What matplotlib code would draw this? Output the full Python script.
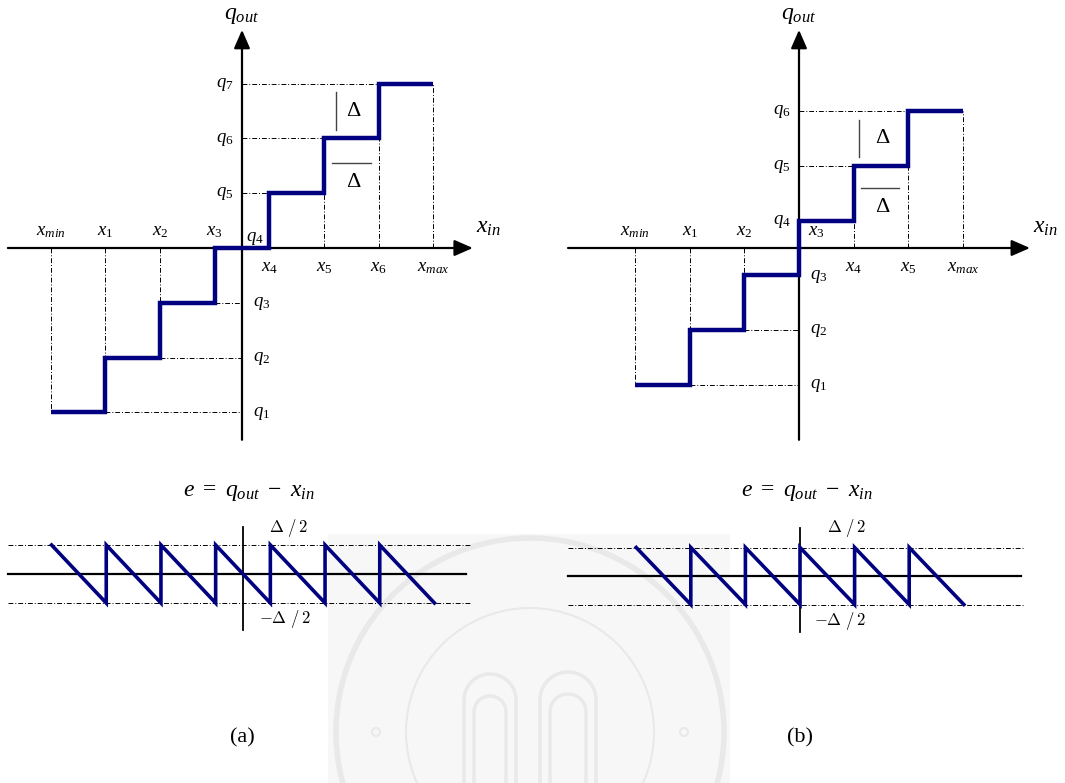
import numpy as np
import matplotlib
matplotlib.use("Agg")
import matplotlib.pyplot as plt
from matplotlib.patches import Rectangle, Circle

plt.rcParams["font.family"] = "Liberation Serif"
plt.rcParams["mathtext.fontset"] = "custom"
plt.rcParams["mathtext.rm"] = "Liberation Serif"
plt.rcParams["mathtext.it"] = "Liberation Serif:italic"

# quantizer (a): mid-tread, decision edges and output levels in units of delta
a_edges = [-3.5, -2.5, -1.5, -0.5, 0.5, 1.5, 2.5, 3.5]
a_levels = [-3, -2, -1, 0, 1, 2, 3]
a_xlabels = ["min", "1", "2", "3", "4", "5", "6", "max"]
a_qlabels = ["1", "2", "3", "4", "5", "6", "7"]

# quantizer (b): mid-rise
b_edges = [-3, -2, -1, 0, 1, 2, 3]
b_levels = [-2.5, -1.5, -0.5, 0.5, 1.5, 2.5]
b_xlabels = ["min", "1", "2", "3", "4", "5", "max"]
b_qlabels = ["1", "2", "3", "4", "5", "6"]

half_step = 0.5
captions = ["(a)", "(b)"]

W, H = 1065, 783
NAVY = "#000080"
SEAL = "#e9e9e9"
DASHDOT = (0, (5, 2, 1, 2))

fig = plt.figure(figsize=(W / 100, H / 100), dpi=100)


def panel(ox, oy, sx, sy, xr, yr):
    """axes whose data origin lands on pixel (ox, oy), sx/sy pixels per delta"""
    left = (ox + xr[0] * sx) / W
    bottom = (H - oy + yr[0] * sy) / H
    ax = fig.add_axes([left, bottom, (xr[1] - xr[0]) * sx / W, (yr[1] - yr[0]) * sy / H])
    ax.set_xlim(xr)
    ax.set_ylim(yr)
    ax.axis("off")
    ax.patch.set_alpha(0)
    return ax


# faint seal watermark behind the lower half
bg = fig.add_axes([0, 0, 1, 1], zorder=-5)
bg.set_xlim(0, W)
bg.set_ylim(H, 0)
bg.axis("off")
bg.add_patch(Rectangle((328, 534), 402, 260, facecolor="#f7f7f7", edgecolor="none"))
for r, lw in [(194, 4.0), (124, 1.5)]:
    bg.add_patch(Circle((530, 732), r, facecolor="none", edgecolor=SEAL, lw=lw))
t = np.linspace(0, np.pi, 40)
for cx, rw in [(490, 26), (568, 28), (490, 16), (568, 18)]:
    top = 700 if rw > 20 else 712
    bg.plot(np.r_[cx - rw, cx - rw + rw * (1 - np.cos(t)), cx + rw],
            np.r_[790, top - rw * np.sin(t), 790], color=SEAL, lw=2.5)
for cx in [376, 684]:
    bg.add_patch(Circle((cx, 732), 4, facecolor="none", edgecolor=SEAL, lw=1.5))


def quantizer(ax, edges, levels, xlabels, qlabels, xlo, xhi, x_above, q_left):
    # axes with arrows
    ax.annotate("", xy=(xhi, 0), xytext=(xlo, 0),
                arrowprops=dict(arrowstyle="-|>,head_length=0.8,head_width=0.35",
                                color="k", lw=1.6, shrinkA=0, shrinkB=0, mutation_scale=14))
    ax.annotate("", xy=(0, 3.98), xytext=(0, -3.5),
                arrowprops=dict(arrowstyle="-|>,head_length=0.8,head_width=0.35",
                                color="k", lw=1.6, shrinkA=0, shrinkB=0, mutation_scale=14))

    # dash-dot guides from the axes to the step corners
    for i, q in enumerate(levels):
        if q > 0:
            ax.plot([0, edges[i]], [q, q], color="k", lw=0.7, ls=DASHDOT)
        elif q < 0:
            ax.plot([edges[i + 1], 0], [q, q], color="k", lw=0.7, ls=DASHDOT)
    for j, e in enumerate(edges):
        adj = levels[max(j - 1, 0):j + 1]
        if e < 0:
            ax.plot([e, e], [0, max(adj)], color="k", lw=0.7, ls=DASHDOT)
        elif e > 0:
            ax.plot([e, e], [0, min(adj)], color="k", lw=0.7, ls=DASHDOT)

    ax.stairs(levels, edges, baseline=None, color=NAVY, lw=3.2, zorder=5)

    # tick labels
    for e, lab in zip(edges, xlabels):
        txt = r"$x_{%s}$" % lab
        if lab in x_above:
            dx = 0.31 if e == 0 else 0
            ax.text(e + dx, 0.24, txt, ha="center", va="baseline", fontsize=13.5)
        else:
            ax.text(e, -0.42, txt, ha="center", va="baseline", fontsize=13.5)
    for q, lab in zip(levels, qlabels):
        txt = r"$q_{%s}$" % lab
        if q == 0:
            ax.text(0.24, 0.12, txt, ha="center", va="baseline", fontsize=13.5)
        elif lab in q_left:
            ax.text(-0.31, q - 0.06, txt, ha="center", va="baseline", fontsize=13.5)
        else:
            ax.text(0.36, q - 0.06, txt, ha="center", va="baseline", fontsize=13.5)

    ax.text(0, 4.17, r"$q_{out}$", ha="center", va="baseline", fontsize=17)
    ax.text(xhi + 0.28, 0.28, r"$x_{in}$", ha="center", va="baseline", fontsize=17)


def delta_marks(ax, xv, yv0, yv1, xh0, xh1, yh, xt):
    ax.plot([xv, xv], [yv0, yv1], color="#444444", lw=1.0)
    ax.plot([xh0, xh1], [yh, yh], color="#444444", lw=1.0)
    ax.text(xt, (yv0 + yv1) / 2, "\u0394", ha="center", va="center", fontsize=16)
    ax.text(xt, yh - 0.36, "\u0394", ha="center", va="center", fontsize=16)


def error_plot(ax, edges, levels, xlo, xhi, ylo, yhi, title_xy, lab_top, lab_bot):
    ax.plot([xlo, xhi - 0.08], [0, 0], color="k", lw=1.6)
    for y in (half_step, -half_step):
        ax.plot([xlo, xhi], [y, y], color="k", lw=0.7, ls=DASHDOT)
    ax.plot([0, 0], [ylo, yhi], color="k", lw=1.3)
    xs, es = [], []
    for i, q in enumerate(levels):
        xs += [edges[i], edges[i + 1]]
        es += [q - edges[i], q - edges[i + 1]]
    ax.plot(xs, es, color=NAVY, lw=2.6, zorder=5, solid_joinstyle="miter")
    ax.text(*title_xy, r"$e\ =\ q_{out}\ -\ x_{in}$", ha="center", va="center", fontsize=17)
    ax.text(*lab_top, r"$\Delta\ /\,2$", ha="center", va="center", fontsize=12, math_fontfamily="cm")
    ax.text(*lab_bot, r"$-\Delta\ /\,2$", ha="center", va="center", fontsize=12, math_fontfamily="cm")


# top-left: mid-tread
ax_a = panel(242, 248, 54.7, 54.8, (-4.5, 5.0), (-3.8, 4.6))
quantizer(ax_a, a_edges, a_levels, a_xlabels, a_qlabels, -4.28, 4.22,
          x_above=["min", "1", "2", "3"], q_left=["5", "6", "7"])
delta_marks(ax_a, 1.72, 2.15, 2.85, 1.65, 2.36, 1.55, 2.03)

# top-right: mid-rise
ax_b = panel(799, 248, 54.6, 54.8, (-4.5, 5.0), (-3.8, 4.6))
quantizer(ax_b, b_edges, b_levels, b_xlabels, b_qlabels, -4.23, 4.23,
          x_above=["min", "1", "2", "3"], q_left=["4", "5", "6"])
delta_marks(ax_b, 1.10, 1.66, 2.34, 1.14, 1.83, 1.09, 1.52)

# error plots
ax_ea = panel(243, 574, 54.7, 58, (-4.5, 4.5), (-1.2, 1.7))
error_plot(ax_ea, a_edges, a_levels, -4.3, 4.15, -0.97, 0.81,
           (0.1, 1.4), (0.84, 0.79), (0.77, -0.78))

ax_eb = panel(800, 576, 54.6, 57, (-4.5, 4.5), (-1.2, 1.7))
error_plot(ax_eb, b_edges, b_levels, -4.25, 4.12, -0.98, 0.84,
           (0.13, 1.46), (0.86, 0.84), (0.73, -0.79))

for cx, cap in zip([242, 800], captions):
    fig.text(cx / W, 1 - 738 / H, cap, ha="center", va="center", fontsize=16)

fig.savefig("out.png", dpi=100)
